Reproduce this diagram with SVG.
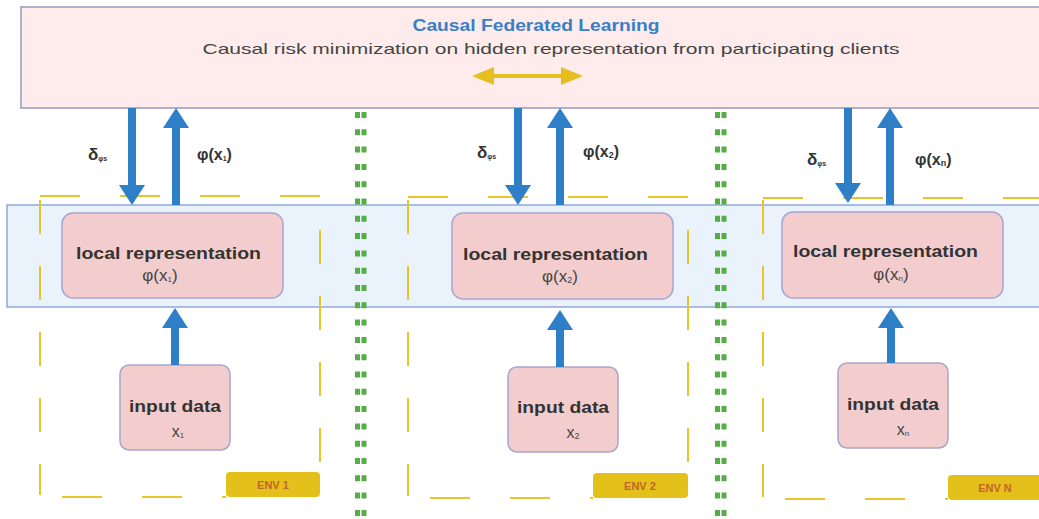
<svg xmlns="http://www.w3.org/2000/svg" width="1039" height="519" viewBox="0 0 1039 519">
<defs>
<style>
.bold{font-family:"Liberation Sans",Arial,sans-serif;font-weight:bold;fill:#333}
.reg{font-family:"Liberation Sans",Arial,sans-serif;fill:#444}
.node{fill:#f3cdcd;stroke:#a7a6cd;stroke-width:1.5}
.env{fill:none;stroke:#e8c52a;stroke-width:2}
.envh{stroke-dasharray:40 40}
.envv{stroke-dasharray:34 32}
.envlab{fill:#e4c01a}
.envtxt{font-family:"Liberation Sans",Arial,sans-serif;font-weight:bold;font-size:11px;fill:#c4652c}
.blue{stroke:#2f7fc8;stroke-width:8;fill:none}
.green{stroke:#55ad45;stroke-width:5;stroke-dasharray:6 11.3}
</style>
<marker id="ah" markerUnits="userSpaceOnUse" markerWidth="22" markerHeight="28" refX="10" refY="13" orient="auto">
<path d="M0,0 L20,13 L0,26 Z" fill="#2f7fc8"/>
</marker>
<marker id="yh" markerUnits="userSpaceOnUse" markerWidth="24" markerHeight="20" refX="8" refY="9" orient="auto-start-reverse">
<path d="M0,0 L22,9 L0,18 Z" fill="#e6bf1e"/>
</marker>
</defs>
<rect width="1039" height="519" fill="#ffffff"/>

<g id="server">
<rect x="21" y="7" width="1022" height="101" fill="#fdeceb" stroke="#aeb0cc" stroke-width="2"/>
<text x="536" y="31" text-anchor="middle" font-family="'Liberation Sans',Arial,sans-serif" font-weight="bold" font-size="16" fill="#3b7ec6" textLength="247" lengthAdjust="spacingAndGlyphs">Causal Federated Learning</text>
<text x="551" y="54" text-anchor="middle" class="reg" font-size="15" fill="#555" textLength="697" lengthAdjust="spacingAndGlyphs">Causal risk minimization on hidden representation from participating clients</text>
<line x1="486" y1="76" x2="569" y2="76" stroke="#e6bf1e" stroke-width="4" marker-start="url(#yh)" marker-end="url(#yh)"/>
</g>

<g id="band">
<rect x="7" y="205" width="1040" height="102" fill="#eaf2fb" stroke="#8fa9dd" stroke-width="1.5"/>
</g>

<g id="env1">
<line class="env envh" x1="40" y1="196" x2="320" y2="196"/>
<line class="env envh" x1="62" y1="497" x2="226" y2="497"/>
<line class="env envv" x1="40" y1="200" x2="40" y2="495"/>
<line class="env envv" x1="320" y1="230" x2="320" y2="470"/>
<rect class="envlab" x="226" y="472" width="94" height="25" rx="4"/>
<text class="envtxt" x="273" y="489" text-anchor="middle">ENV 1</text>
</g>
<g id="env2">
<line class="env envh" x1="408" y1="197" x2="688" y2="197"/>
<line class="env envh" x1="430" y1="498" x2="593" y2="498"/>
<line class="env envv" x1="408" y1="200" x2="408" y2="496"/>
<line class="env envv" x1="688" y1="230" x2="688" y2="470"/>
<rect class="envlab" x="593" y="473" width="95" height="25" rx="4"/>
<text class="envtxt" x="640" y="490" text-anchor="middle">ENV 2</text>
</g>
<g id="envN">
<line class="env envh" x1="763" y1="198" x2="1039" y2="198"/>
<line class="env envh" x1="785" y1="499" x2="948" y2="499"/>
<line class="env envv" x1="763" y1="200" x2="763" y2="497"/>
<rect class="envlab" x="948" y="475" width="95" height="25" rx="4"/>
<text class="envtxt" x="995" y="492" text-anchor="middle">ENV N</text>
</g>

<g id="separators">
<line class="green" x1="357.5" y1="112" x2="357.5" y2="519"/>
<line class="green" x1="364" y1="112" x2="364" y2="519"/>
<line class="green" x1="717.5" y1="112" x2="717.5" y2="519"/>
<line class="green" x1="724" y1="112" x2="724" y2="519"/>
</g>

<g id="local1">
<rect class="node" x="62" y="213" width="221" height="85" rx="11"/>
<text class="bold" x="168.5" y="259" text-anchor="middle" font-size="16" textLength="185" lengthAdjust="spacingAndGlyphs">local representation</text>
<text class="reg" x="160" y="281" text-anchor="middle" font-size="17">φ(x<tspan font-size="8" dy="1">1</tspan><tspan dy="-1">)</tspan></text>
</g>
<g id="input1">
<rect class="node" x="120" y="365" width="110" height="85" rx="9"/>
<text class="bold" x="175" y="412" text-anchor="middle" font-size="16" textLength="92" lengthAdjust="spacingAndGlyphs">input data</text>
<text class="reg" x="178" y="437" text-anchor="middle" font-size="16">x<tspan font-size="8" dy="1">1</tspan></text>
</g>

<g id="local2">
<rect class="node" x="452" y="213" width="221" height="86" rx="11"/>
<text class="bold" x="555.5" y="260" text-anchor="middle" font-size="16" textLength="185" lengthAdjust="spacingAndGlyphs">local representation</text>
<text class="reg" x="560" y="282" text-anchor="middle" font-size="17">φ(x<tspan font-size="9" dy="1">2</tspan><tspan dy="-1">)</tspan></text>
</g>
<g id="input2">
<rect class="node" x="508" y="367" width="110" height="85" rx="9"/>
<text class="bold" x="563" y="413" text-anchor="middle" font-size="16" textLength="92" lengthAdjust="spacingAndGlyphs">input data</text>
<text class="reg" x="573" y="438" text-anchor="middle" font-size="16">x<tspan font-size="9" dy="1">2</tspan></text>
</g>

<g id="localN">
<rect class="node" x="782" y="212" width="221" height="86" rx="11"/>
<text class="bold" x="885.5" y="257" text-anchor="middle" font-size="16" textLength="185" lengthAdjust="spacingAndGlyphs">local representation</text>
<text class="reg" x="891" y="280" text-anchor="middle" font-size="17">φ(x<tspan font-size="8" dy="1">n</tspan><tspan dy="-1">)</tspan></text>
</g>
<g id="inputN">
<rect class="node" x="838" y="363" width="110" height="85" rx="9"/>
<text class="bold" x="893" y="410" text-anchor="middle" font-size="16" textLength="92" lengthAdjust="spacingAndGlyphs">input data</text>
<text class="reg" x="903" y="435" text-anchor="middle" font-size="16">x<tspan font-size="8" dy="1">n</tspan></text>
</g>

<g id="connectors">
<line class="blue" x1="132" y1="108" x2="132" y2="195" marker-end="url(#ah)"/>
<line class="blue" x1="176" y1="205" x2="176" y2="118" marker-end="url(#ah)"/>
<line class="blue" x1="175" y1="365" x2="175" y2="318" marker-end="url(#ah)"/>
<line class="blue" x1="518" y1="108" x2="518" y2="195" marker-end="url(#ah)"/>
<line class="blue" x1="560" y1="205" x2="560" y2="118" marker-end="url(#ah)"/>
<line class="blue" x1="560" y1="367" x2="560" y2="320" marker-end="url(#ah)"/>
<line class="blue" x1="848" y1="108" x2="848" y2="193" marker-end="url(#ah)"/>
<line class="blue" x1="890" y1="205" x2="890" y2="118" marker-end="url(#ah)"/>
<line class="blue" x1="891" y1="363" x2="891" y2="318" marker-end="url(#ah)"/>
</g>

<g id="labels">
<text class="bold" x="88" y="160" font-size="17">δ<tspan font-size="7" dy="1">φs</tspan></text>
<text class="bold" x="197" y="160" font-size="16">φ(x<tspan font-size="7" dy="1">1</tspan><tspan dy="-1">)</tspan></text>
<text class="bold" x="477" y="158" font-size="17">δ<tspan font-size="7" dy="1">φs</tspan></text>
<text class="bold" x="583" y="157" font-size="16">φ(x<tspan font-size="9" dy="1">2</tspan><tspan dy="-1">)</tspan></text>
<text class="bold" x="807" y="165" font-size="17">δ<tspan font-size="7" dy="1">φs</tspan></text>
<text class="bold" x="915" y="165" font-size="16">φ(x<tspan font-size="9" dy="1">n</tspan><tspan dy="-1">)</tspan></text>
</g>
</svg>
